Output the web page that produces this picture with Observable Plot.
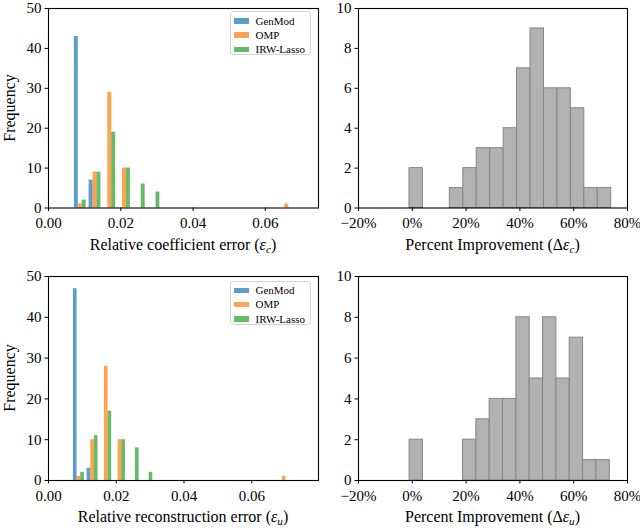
<!DOCTYPE html>
<html><head><meta charset="utf-8">
<script src="https://cdn.jsdelivr.net/npm/d3@7"></script>
<script src="https://cdn.jsdelivr.net/npm/@observablehq/plot@0.6"></script>
<style>
body{margin:0;background:#fff;}
#root{position:relative;width:640px;height:528px;font-family:"Liberation Serif",serif;color:#000;overflow:hidden;}
.panel{position:absolute;}
.xlabel{position:absolute;font-size:16px;white-space:nowrap;transform:translate(-50%,-50%);line-height:1;}
.xlabel sub{font-size:70%;vertical-align:-0.25em;line-height:0;}
.ylabel{position:absolute;font-size:16px;white-space:nowrap;transform:translate(-50%,-50%) rotate(-90deg);line-height:1;}
.legend{position:absolute;width:81px;height:44px;border:1px solid #d4d4d4;border-radius:3px;background:rgba(255,255,255,0.8);box-sizing:border-box;}
.legend .row{position:absolute;left:0;height:14px;width:100%;}
.legend .patch{position:absolute;left:3px;top:4.5px;width:15px;height:5.5px;}
.legend .lab{position:absolute;left:25px;top:0;font-size:11px;line-height:14px;white-space:nowrap;}
</style></head>
<body><div id="root"></div>
<script>
// ---- data ----
const series = ["GenMod", "OMP", "IRW-Lasso"];
const seriesColors = ["#1f77b4", "#ff7f0e", "#2ca02c"];

// Relative coefficient error histogram (15 bins)
const coefErrEdges = [0.00675, 0.01083, 0.01491, 0.01899, 0.02307, 0.02715, 0.03123, 0.03531, 0.03939, 0.04347, 0.04755, 0.05163, 0.05571, 0.05979, 0.06387, 0.06795];
const coefErrGenMod = [43, 7, 0, 0, 0, 0, 0, 0, 0, 0, 0, 0, 0, 0, 0];
const coefErrOMP    = [1, 9, 29, 10, 0, 0, 0, 0, 0, 0, 0, 0, 0, 0, 1];
const coefErrIRW    = [2, 9, 19, 10, 6, 4, 0, 0, 0, 0, 0, 0, 0, 0, 0];

// Relative reconstruction error histogram (16 bins)
const reconErrEdges = [0.00695, 0.01099, 0.01503, 0.01907, 0.02311, 0.02715, 0.03119, 0.03523, 0.03927, 0.04331, 0.04735, 0.05139, 0.05543, 0.05947, 0.06351, 0.06755, 0.07159];
const reconErrGenMod = [47, 3, 0, 0, 0, 0, 0, 0, 0, 0, 0, 0, 0, 0, 0, 0];
const reconErrOMP    = [1, 10, 28, 10, 0, 0, 0, 0, 0, 0, 0, 0, 0, 0, 0, 1];
const reconErrIRW    = [2, 11, 17, 10, 8, 2, 0, 0, 0, 0, 0, 0, 0, 0, 0, 0];

// Percent improvement histograms
const coefImpEdges = [-1.05, 3.95, 8.95, 13.95, 18.95, 23.95, 28.95, 33.95, 38.95, 43.95, 48.95, 53.95, 58.95, 63.95, 68.95, 73.95];
const coefImpCounts = [2, 0, 0, 1, 2, 3, 3, 4, 7, 9, 6, 6, 5, 1, 1];
const reconImpEdges = [-1.0, 3.96, 8.92, 13.88, 18.84, 23.8, 28.76, 33.72, 38.68, 43.64, 48.6, 53.56, 58.52, 63.48, 68.44, 73.4];
const reconImpCounts = [2, 0, 0, 0, 2, 3, 4, 4, 8, 5, 8, 5, 7, 1, 1];

const errTicks = [0, 0.02, 0.04, 0.06];
const freqTicks = [0, 10, 20, 30, 40, 50];
const pctTicks = [-20, 0, 20, 40, 60, 80];
const cntTicks = [0, 2, 4, 6, 8, 10];

// ---- helpers ----
function groupedRows(edges, countsList) {
  const rows = [];
  countsList.forEach((counts, j) => counts.forEach((c, i) => {
    if (!c) return;
    const w = edges[i + 1] - edges[i];
    const bw = 0.8 * w / countsList.length;
    const x1 = edges[i] + 0.1 * w + j * bw;
    rows.push({series: series[j], x1, x2: x1 + bw, y: c});
  }));
  return rows;
}
function histRows(edges, counts) {
  return counts.map((c, i) => ({x1: edges[i], x2: edges[i + 1], y: c})).filter(d => d.y > 0);
}
const style = {fontFamily: "Liberation Serif, serif", fontSize: "15px", background: "transparent", overflow: "visible"};
const pctFmt = d => (d < 0 ? "\u2212" : "") + Math.abs(d) + "%";

function errPanel(edges, lists, xmax, innerH, top) {
  return Plot.plot({
    width: 320, height: top + innerH + 32,
    marginLeft: 48, marginRight: 2, marginTop: top, marginBottom: 32,
    style,
    x: {domain: [0, xmax]},
    y: {domain: [0, 50]},
    color: {domain: series, range: seriesColors},
    marks: [
      Plot.rectY(groupedRows(edges, lists), {x1: "x1", x2: "x2", y: "y", fill: "series", fillOpacity: 0.72}),
      Plot.frame({stroke: "#000", strokeWidth: 1.1}),
      Plot.axisX({ticks: errTicks, tickFormat: d3.format(".2f"), tickSize: 3.5, tickPadding: 6, label: null}),
      Plot.axisY({ticks: freqTicks, tickSize: 3.5, tickPadding: 3.5, label: null})
    ]
  });
}
function impPanel(edges, counts, innerH, top) {
  return Plot.plot({
    width: 320, height: top + innerH + 32,
    marginLeft: 38, marginRight: 13, marginTop: top, marginBottom: 32,
    style,
    x: {domain: [-20, 80]},
    y: {domain: [0, 10]},
    marks: [
      Plot.rectY(histRows(edges, counts), {x1: "x1", x2: "x2", y: "y", fill: "#b2b2b2", stroke: "#858585", strokeWidth: 1}),
      Plot.frame({stroke: "#000", strokeWidth: 1.1}),
      Plot.axisX({ticks: pctTicks, tickFormat: pctFmt, tickSize: 3.5, tickPadding: 6, label: null}),
      Plot.axisY({ticks: cntTicks, tickSize: 3.5, tickPadding: 3.5, label: null})
    ]
  });
}

const root = document.getElementById("root");
function place(node, left, top) {
  node.classList.add("panel");
  node.style.left = left + "px";
  node.style.top = top + "px";
  root.appendChild(node);
}
place(errPanel(coefErrEdges, [coefErrGenMod, coefErrOMP, coefErrIRW], 0.0747, 199.5, 8), 0, 0);
place(impPanel(coefImpEdges, coefImpCounts, 199.5, 8), 320, 0);
place(errPanel(reconErrEdges, [reconErrGenMod, reconErrOMP, reconErrIRW], 0.0797, 204, 5), 0, 270.5);
place(impPanel(reconImpEdges, reconImpCounts, 204, 5), 320, 270.5);

function addDiv(cls, html, x, y) {
  const d = document.createElement("div");
  d.className = cls;
  d.innerHTML = html;
  d.style.left = x + "px";
  d.style.top = y + "px";
  root.appendChild(d);
}
addDiv("xlabel", "Relative coefficient error (<i>ε</i><sub><i>c</i></sub>)", 183, 245);
addDiv("xlabel", "Percent Improvement (Δ<i>ε</i><sub><i>c</i></sub>)", 492.5, 245);
addDiv("xlabel", "Relative reconstruction error (<i>ε</i><sub><i>u</i></sub>)", 183, 517);
addDiv("xlabel", "Percent Improvement (Δ<i>ε</i><sub><i>u</i></sub>)", 492.5, 517);
addDiv("ylabel", "Frequency", 9.5, 107.5);
addDiv("ylabel", "Frequency", 9.5, 377.5);

function addLegend(left, top) {
  const lg = document.createElement("div");
  lg.className = "legend";
  lg.style.left = left + "px";
  lg.style.top = top + "px";
  series.forEach((s, i) => {
    const r = document.createElement("div");
    r.className = "row";
    r.style.top = (1.5 + i * 14.3) + "px";
    const p = document.createElement("div");
    p.className = "patch";
    p.style.background = seriesColors[i];
    p.style.opacity = 0.72;
    const t = document.createElement("div");
    t.className = "lab";
    t.textContent = s;
    r.appendChild(p); r.appendChild(t);
    lg.appendChild(r);
  });
  root.appendChild(lg);
}
addLegend(229.5, 11);
addLegend(229.5, 280.5);
</script></body></html>
